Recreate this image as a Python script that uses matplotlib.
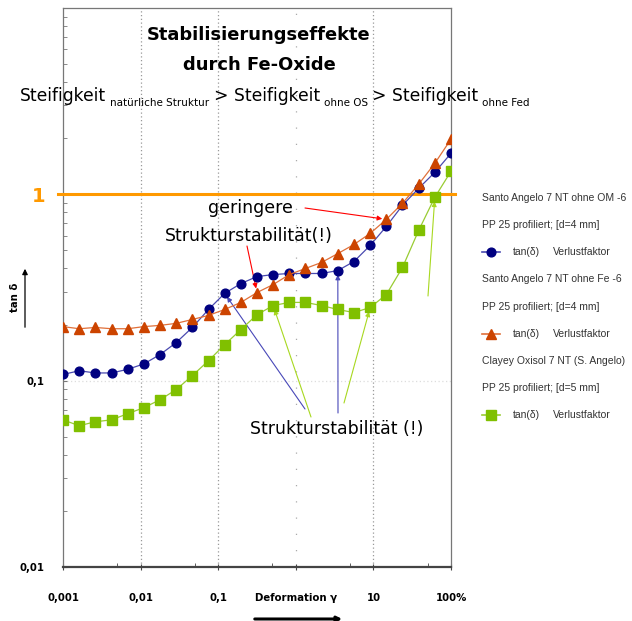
import matplotlib
matplotlib.use("Agg")
import matplotlib.pyplot as plt
from matplotlib.lines import Line2D

# strain amplitude (%) and loss factor tan(delta) of the three samples
strain = [0.001, 0.00162, 0.00261, 0.00422, 0.00681, 0.0110, 0.0178, 0.0287, 0.0464,
          0.0750, 0.121, 0.196, 0.316, 0.511, 0.825, 1.33, 2.15, 3.48, 5.62, 9.09,
          14.7, 23.7, 38.3, 61.9, 100]
tan_ohne_om = [0.108, 0.113, 0.110, 0.110, 0.115, 0.123, 0.138, 0.160, 0.193, 0.241,
               0.294, 0.332, 0.362, 0.371, 0.376, 0.376, 0.376, 0.390, 0.436, 0.532,
               0.673, 0.873, 1.077, 1.313, 1.66]
tan_ohne_fe = [0.195, 0.190, 0.193, 0.190, 0.190, 0.195, 0.198, 0.203, 0.213, 0.224,
               0.241, 0.263, 0.297, 0.328, 0.371, 0.400, 0.431, 0.481, 0.538, 0.617,
               0.734, 0.895, 1.132, 1.468, 1.977]
tan_oxisol = [0.0616, 0.0573, 0.0602, 0.0616, 0.0665, 0.0716, 0.0790, 0.0895, 0.1064,
              0.128, 0.156, 0.188, 0.226, 0.253, 0.263, 0.263, 0.253, 0.241, 0.232,
              0.247, 0.290, 0.405, 0.640, 0.964, 1.33]

xticks = [0.001, 0.01, 0.1, 1, 10, 100]
xticklabels = ["0,001", "0,01", "0,1", "Deformation γ", "10", "100%"]
yticks = [0.01, 0.1, 1]
yticklabels = ["0,01", "0,1", "1"]

legend_lines = [
    ("Santo Angelo 7 NT ohne OM -6", "PP 25 profiliert; [d=4 mm]"),
    ("Santo Angelo 7 NT ohne Fe -6", "PP 25 profiliert; [d=4 mm]"),
    ("Clayey Oxisol 7 NT (S. Angelo)", "PP 25 profiliert; [d=5 mm]"),
]

W, H = 632, 621


def fx(px):
    return px / W


def fy(py):
    return 1 - py / H


fig = plt.figure(figsize=(W / 100, H / 100), dpi=100)
ax = fig.add_axes([fx(63), 54 / H, 388 / W, 559 / H])

styles = [
    dict(marker="o", ms=6.3, mfc="#000080", mec="#000080", color="#4a4ab0"),
    dict(marker="^", ms=7, mfc="#cc4400", mec="#cc4400", color="#e0703a"),
    dict(marker="s", ms=7, mfc="#80c000", mec="#80c000", color="#99cc33"),
]
series = [tan_ohne_om, tan_ohne_fe, tan_oxisol]
for vals, st in zip(series, styles):
    ax.plot(strain, vals, lw=0.9, zorder=4, **st)

ax.set_xscale("log")
ax.set_yscale("log")
ax.set_xlim(0.001, 100)
ax.set_ylim(0.01, 10)

# grid
for gx in [0.01, 0.1, 10]:
    ax.axvline(gx, color="#999999", ls=(0, (1, 2)), lw=0.9, zorder=1)
ax.axvline(1, color="#aaaaaa", ls=(0, (1, 12)), lw=0.9, zorder=1)
ax.axhline(0.1, color="#dddddd", ls=(0, (1, 2)), lw=0.9, zorder=1)
ax.axhline(1, color="#ff9900", lw=2.2, zorder=3, xmin=-0.013, xmax=1.01, clip_on=False)

for s in ["left", "right", "top"]:
    ax.spines[s].set_color("#777777")
    ax.spines[s].set_linewidth(0.9)
ax.spines["bottom"].set_color("#444444")
ax.spines["bottom"].set_linewidth(1.6)

ax.xaxis.set_major_locator(matplotlib.ticker.FixedLocator(xticks))
ax.xaxis.set_minor_locator(matplotlib.ticker.LogLocator(subs=[5]))
ax.xaxis.set_minor_formatter(matplotlib.ticker.NullFormatter())
ax.set_xticklabels(xticklabels, fontsize=7.3, fontweight="bold")
ax.tick_params(axis="x", which="major", direction="inout", length=5, color="#444444", pad=16)
ax.tick_params(axis="x", which="minor", direction="in", length=3, color="#444444")

ax.yaxis.set_major_locator(matplotlib.ticker.FixedLocator(yticks))
ax.yaxis.set_minor_locator(matplotlib.ticker.LogLocator(subs=range(2, 10)))
ax.yaxis.set_minor_formatter(matplotlib.ticker.NullFormatter())
ax.set_yticklabels(yticklabels, fontsize=7.3, fontweight="bold")
ax.tick_params(axis="y", which="both", direction="in", length=3, color="#777777", pad=13)
one = ax.get_yticklabels()[2]
one.set_color("#ff9900")
one.set_fontsize(14)

# titles
fig.text(fx(259), fy(40), "Stabilisierungseffekte", ha="center", va="baseline",
         fontsize=12.9, fontweight="bold")
fig.text(fx(259), fy(70), "durch Fe-Oxide", ha="center", va="baseline",
         fontsize=12.9, fontweight="bold")

S, s = 12.3, 7.5
t0 = fig.text(fx(20), fy(101), "Steifigkeit", va="baseline", fontsize=S)
pieces = [("natürliche Struktur", s), ("> Steifigkeit", S), ("ohne OS", s),
          ("> Steifigkeit", S), ("ohne Fed", s)]
prev, main = t0, t0
for txt, size in pieces:
    if size == s:
        a = ax.annotate(txt, xy=(1, 0), xycoords=(prev, main), xytext=(3, -2),
                        textcoords="offset points", va="bottom", fontsize=size)
    else:
        a = ax.annotate(txt, xy=(1, 0), xycoords=(prev, main), xytext=(3, 0),
                        textcoords="offset points", va="bottom", fontsize=size)
        main = a
    prev = a

# y axis label with arrow
fig.text(fx(15), fy(297), "tan δ", rotation=90, ha="center", va="center",
         fontsize=7.3, fontweight="bold")
ax.annotate("", xy=(fx(25), fy(266)), xycoords="figure fraction",
            xytext=(fx(25), fy(330)), textcoords="figure fraction",
            arrowprops=dict(arrowstyle="-|>", color="black", lw=0.9, mutation_scale=8))
# x axis arrow
ax.annotate("", xy=(fx(345), fy(619)), xycoords="figure fraction",
            xytext=(fx(252), fy(619)), textcoords="figure fraction",
            arrowprops=dict(arrowstyle="-|>", color="black", lw=2.2, mutation_scale=7))

# annotations
fig.text(fx(250), fy(208), "geringere", ha="center", va="center", fontsize=12.5)
fig.text(fx(249), fy(236), "Strukturstabilität(!)", ha="center", va="center", fontsize=12.5)
fig.text(fx(337), fy(429), "Strukturstabilität (!)", ha="center", va="center", fontsize=12.5)

arr = dict(arrowstyle="-|>", lw=0.8, mutation_scale=7, shrinkA=0, shrinkB=3)
ax.annotate("", xy=(strain[20], tan_ohne_fe[20]), xytext=(fx(305), fy(208)),
            textcoords="figure fraction", arrowprops=dict(color="#ff0000", **arr))
ax.annotate("", xy=(strain[12], tan_ohne_fe[12]), xytext=(fx(247), fy(246)),
            textcoords="figure fraction", arrowprops=dict(color="#ff0000", **arr))
ax.annotate("", xy=(strain[10], tan_ohne_om[10]), xytext=(fx(305), fy(409)),
            textcoords="figure fraction", arrowprops=dict(color="#4848b8", **arr))
ax.annotate("", xy=(strain[17], tan_ohne_om[17]), xytext=(fx(338), fy(413)),
            textcoords="figure fraction", arrowprops=dict(color="#4848b8", **arr))
ax.annotate("", xy=(strain[13], tan_oxisol[13]), xytext=(fx(311), fy(417)),
            textcoords="figure fraction", arrowprops=dict(color="#a8d820", **arr))
ax.annotate("", xy=(strain[19], tan_oxisol[19]), xytext=(fx(344), fy(403)),
            textcoords="figure fraction", arrowprops=dict(color="#a8d820", **arr))
ax.annotate("", xy=(strain[23], tan_oxisol[23]), xytext=(fx(428), fy(296)),
            textcoords="figure fraction", arrowprops=dict(color="#a8d820", **arr))

# legend drawn by hand
fs = 7.5
for i, ((l1, l2), st) in enumerate(zip(legend_lines, styles)):
    y0 = 198 + i * 81.5
    fig.text(fx(482), fy(y0), l1, va="center", fontsize=fs, color="#333333",
             family="Liberation Sans")
    fig.text(fx(482), fy(y0 + 27), l2, va="center", fontsize=fs, color="#333333",
             family="Liberation Sans")
    fig.add_artist(Line2D([fx(482), fx(491), fx(500)], [fy(y0 + 54)] * 3,
                          transform=fig.transFigure, markevery=[1], lw=1.2, **st))
    fig.text(fx(513), fy(y0 + 54), "tan(δ)", va="center",
             fontsize=fs, color="#333333", family="Liberation Sans")
    fig.text(fx(553), fy(y0 + 54), "Verlustfaktor", va="center",
             fontsize=fs, color="#333333", family="Liberation Sans")

fig.savefig("out.png", dpi=100)
